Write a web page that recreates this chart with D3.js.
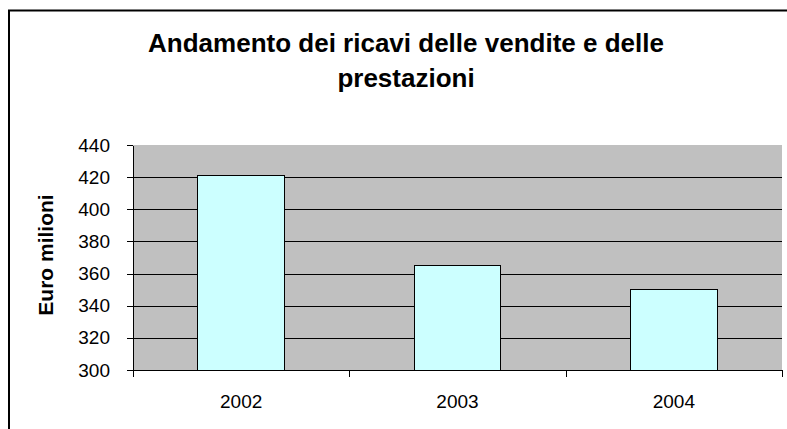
<!DOCTYPE html>
<html>
<head>
<meta charset="utf-8">
<script src="https://cdn.jsdelivr.net/npm/d3@7"></script>
<style>
  body { margin: 0; background: #fff; }
  svg text { font-family: 'Liberation Sans', Arial, sans-serif; fill: #000; }
</style>
</head>
<body>
<div id="chart"></div>
<script>
const years = ['2002', '2003', '2004']
const ricavi = [421, 365, 350]
const yTicks = [300, 320, 340, 360, 380, 400, 420, 440]
const titleLines = ['Andamento dei ricavi delle vendite e delle', 'prestazioni']
const yLabel = 'Euro milioni'

const width = 787, height = 429
const margin = {top: 145, right: 5, bottom: 59, left: 133}
const plotW = width - margin.left - margin.right
const plotH = height - margin.top - margin.bottom

const svg = d3.select('#chart').append('svg')
  .attr('width', width)
  .attr('height', height)

// outer chart frame (cut off on right and bottom)
svg.append('rect')
  .attr('x', 9).attr('y', 10.5)
  .attr('width', 900).attr('height', 500)
  .attr('fill', 'none')
  .attr('stroke', '#000')
  .attr('stroke-width', 2)

const x = d3.scaleBand()
  .domain(years)
  .range([0, plotW])
  .paddingInner(0.6)
  .paddingOuter(0.3)
const xEdge = d3.scaleLinear()
  .domain([0, years.length])
  .range([0, plotW])
const y = d3.scaleLinear()
  .domain([300, 440])
  .range([plotH, 0])

const g = svg.append('g')
  .attr('transform', `translate(${margin.left}, ${margin.top})`)

g.append('rect')
  .attr('width', plotW)
  .attr('height', plotH)
  .attr('fill', '#c0c0c0')

// gridlines
g.append('g')
  .attr('class', 'grid')
  .call(d3.axisLeft(y).tickValues(yTicks.filter(d => d > 300 && d < 440)).tickSize(-plotW).tickFormat(''))
  .call(s => s.select('.domain').remove())
  .call(s => s.selectAll('line').attr('stroke', '#000').attr('shape-rendering', 'crispEdges'))

// bars
g.selectAll('.bar')
  .data(ricavi)
  .join('rect')
  .attr('class', 'bar')
  .attr('x', (d, i) => x(years[i]))
  .attr('y', d => y(d))
  .attr('width', x.bandwidth())
  .attr('height', d => plotH - y(d))
  .attr('fill', '#ccffff')
  .attr('stroke', '#000')
  .attr('stroke-width', 1)
  .attr('shape-rendering', 'crispEdges')

// y axis
g.append('g')
  .call(d3.axisLeft(y).tickValues(yTicks).tickSize(6).tickPadding(17).tickSizeOuter(0))
  .call(s => s.selectAll('text').attr('font-size', 19).attr('font-family', "'Liberation Sans', Arial, sans-serif"))
  .call(s => s.selectAll('line, path').attr('stroke', '#000').attr('shape-rendering', 'crispEdges'))

// x axis: edge ticks
g.append('g')
  .attr('transform', `translate(0, ${plotH})`)
  .call(d3.axisBottom(xEdge).ticks(years.length).tickSize(7).tickSizeOuter(0).tickFormat(''))
  .call(s => s.selectAll('line, path').attr('stroke', '#000').attr('shape-rendering', 'crispEdges'))

// x axis: category labels
g.append('g')
  .attr('transform', `translate(0, ${plotH})`)
  .call(d3.axisBottom(x).tickSize(0).tickPadding(25))
  .call(s => s.select('.domain').remove())
  .call(s => s.selectAll('text').attr('font-size', 19).attr('font-family', "'Liberation Sans', Arial, sans-serif"))

// title
svg.append('text')
  .attr('x', 406)
  .attr('y', 52)
  .attr('text-anchor', 'middle')
  .attr('font-size', 26)
  .attr('font-weight', 'bold')
  .selectAll('tspan')
  .data(titleLines)
  .join('tspan')
  .attr('x', 406)
  .attr('dy', (d, i) => i === 0 ? 0 : 35)
  .text(d => d)

// y axis title
svg.append('text')
  .attr('transform', `translate(53, 255) rotate(-90)`)
  .attr('text-anchor', 'middle')
  .attr('font-size', 21)
  .attr('font-weight', 'bold')
  .text(yLabel)
</script>
</body>
</html>
